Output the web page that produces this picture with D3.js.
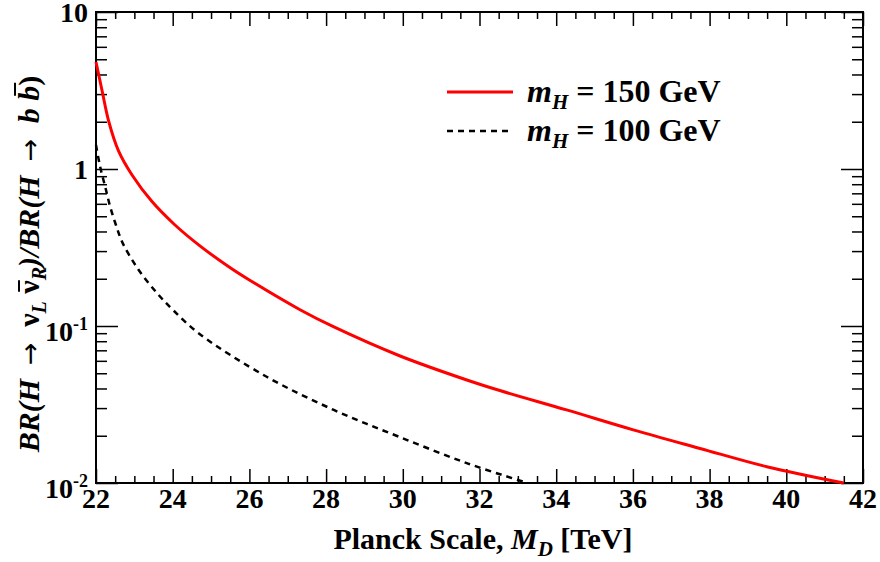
<!DOCTYPE html>
<html>
<head>
<meta charset="utf-8">
<title>BR ratio vs Planck scale</title>
<script src="https://cdn.jsdelivr.net/npm/d3@7"></script>
<style>
  body { margin: 0; background: white; }
  svg { display: block; }
  text { font-family: "Liberation Serif", "DejaVu Serif", serif; font-weight: bold; fill: black; }
  .axis path { display: none; }
  .axis line { stroke: black; stroke-width: 1.5; }
</style>
</head>
<body>
<svg width="880" height="562"></svg>
<script>
// values: M_D [TeV] and BR ratio
const md150 = [22, 22.16, 22.33, 22.59, 22.94, 23.46, 24.06, 24.71, 25.5, 26.02, 27.32, 28.19, 29.93, 31.67, 32.53, 34.27, 36.01, 37.75, 39.49, 41.5];
const br150 = [4.8, 3.14, 2.02, 1.3, 0.916, 0.62, 0.44, 0.324, 0.235, 0.195, 0.127, 0.099, 0.0644, 0.0453, 0.0388, 0.0292, 0.0218, 0.0166, 0.0127, 0.01];
const md100 = [22, 22.11, 22.24, 22.37, 22.52, 22.7, 23.1, 23.6, 24.0, 24.7, 26.45, 28.2, 29.9, 31.7, 33.25];
const br100 = [1.42, 1.03, 0.77, 0.575, 0.44, 0.336, 0.23, 0.161, 0.127, 0.089, 0.0475, 0.0292, 0.0197, 0.0133, 0.01];

const xMajor = [22, 24, 26, 28, 30, 32, 34, 36, 38, 40, 42];
const yMajor = [0.01, 0.1, 1, 10];
const yLabels = [["10", "-2"], ["10", "-1"], ["1", ""], ["10", ""]];
const legendNames = ["150 GeV", "100 GeV"];

const svg = d3.select("svg");
const L = 96, R = 863, T = 12, B = 483;

const x = d3.scaleLinear().domain([22, 42]).range([L, R]);
const y = d3.scaleLog().domain([0.01, 10]).range([B, T]);

const xMinor = d3.range(22, 42.01, 0.5).filter(v => v % 2 !== 0);
const yMinor = [];
[0.01, 0.1, 1].forEach(d => { for (let k = 2; k <= 9; k++) yMinor.push(d * k); });

// ticks, pointing inward on all four sides
function ticks(axisFn, vals, size, tr) {
  svg.append("g").attr("class", "axis").attr("transform", tr)
    .call(axisFn.tickValues(vals).tickSize(-size).tickFormat(""));
}
ticks(d3.axisBottom(x), xMajor, 14, `translate(0,${B})`);
ticks(d3.axisBottom(x), xMinor, 7, `translate(0,${B})`);
ticks(d3.axisTop(x), xMajor, 14, `translate(0,${T})`);
ticks(d3.axisTop(x), xMinor, 7, `translate(0,${T})`);
ticks(d3.axisLeft(y), yMajor, 22, `translate(${L},0)`);
ticks(d3.axisLeft(y), yMinor, 11, `translate(${L},0)`);
ticks(d3.axisRight(y), yMajor, 22, `translate(${R},0)`);
ticks(d3.axisRight(y), yMinor, 11, `translate(${R},0)`);

// frame
svg.append("rect").attr("x", L).attr("y", T).attr("width", R - L).attr("height", B - T)
  .attr("fill", "none").attr("stroke", "black").attr("stroke-width", 2);

// curves
const line = d3.line().x(d => x(d[0])).y(d => y(d[1])).curve(d3.curveCatmullRom.alpha(0.5));
svg.append("path").datum(d3.zip(md100, br100)).attr("d", line)
  .attr("fill", "none").attr("stroke", "black").attr("stroke-width", 2.5).attr("stroke-dasharray", "6,5");
svg.append("path").datum(d3.zip(md150, br150)).attr("d", line)
  .attr("fill", "none").attr("stroke", "#ff0000").attr("stroke-width", 3);

// x tick labels
svg.selectAll(".xl").data(xMajor).enter().append("text")
  .attr("x", d => x(d)).attr("y", 508).attr("text-anchor", "middle")
  .style("font-size", "28px").text(d => d);

// y tick labels
yMajor.forEach((v, i) => {
  const sup = yLabels[i][1];
  const t = svg.append("text").attr("x", 88).attr("y", y(v) + (sup ? 15 : 10)).attr("text-anchor", "end")
    .style("font-size", "28px");
  t.append("tspan").text(yLabels[i][0]);
  if (sup) t.append("tspan").attr("dy", -11).style("font-size", "18px").text(sup);
});

// x title
const xt = svg.append("text").attr("x", 483).attr("y", 549).attr("text-anchor", "middle").style("font-size", "30px");
xt.append("tspan").text("Planck Scale, ");
xt.append("tspan").style("font-style", "italic").text("M");
xt.append("tspan").attr("dy", 7).style("font-style", "italic").style("font-size", "21px").text("D");
xt.append("tspan").attr("dy", -7).text(" [TeV]");

// y title (rotated), bars over nu and b drawn as lines
const yg = svg.append("g").attr("transform", "translate(39,264) rotate(-90)");
const yt = yg.append("text").attr("text-anchor", "middle").style("font-size", "30px");
const arrow = () => yt.append("tspan").attr("dx", 14).style("font-family", "DejaVu Sans").style("font-weight", "normal")
  .style("font-size", "27px").text("\u2192");
yt.append("tspan").style("font-style", "italic").text("BR(H");
arrow();
yt.append("tspan").attr("dx", 8).text(" \u03bd");
yt.append("tspan").attr("dy", 7).style("font-style", "italic").style("font-size", "20px").text("L");
yt.append("tspan").attr("dy", -7).text(" ");
const nuBar = yt.append("tspan").text("\u03bd");
yt.append("tspan").attr("dy", 7).style("font-style", "italic").style("font-size", "20px").text("R");
yt.append("tspan").attr("dy", -7).style("font-style", "italic").text(")/BR(H");
arrow();
yt.append("tspan").attr("dx", 8).style("font-style", "italic").text(" b ");
const bBar = yt.append("tspan").style("font-style", "italic").text("b");
yt.append("tspan").text(")");

[[nuBar, -20, 1], [bBar, -24, 4]].forEach(([ts, off, sh]) => {
  const n = ts.node();
  const p0 = n.getStartPositionOfChar(0), p1 = n.getEndPositionOfChar(0);
  yg.append("line").attr("x1", p0.x + 1 + sh).attr("x2", p1.x - 1 + sh)
    .attr("y1", off).attr("y2", off).attr("stroke", "black").attr("stroke-width", 2);
});

// legend
const lg = svg.append("g");
[0, 1].forEach(i => {
  const ly = 92 + i * 39;
  lg.append("line").attr("x1", 447).attr("x2", 513).attr("y1", ly).attr("y2", ly)
    .attr("stroke", i === 0 ? "#ff0000" : "black")
    .attr("stroke-width", i === 0 ? 3 : 2.5)
    .attr("stroke-dasharray", i === 0 ? null : "6,5");
  const t = lg.append("text").attr("x", 527).attr("y", ly + 10).style("font-size", "32px");
  t.append("tspan").style("font-style", "italic").text("m");
  t.append("tspan").attr("dy", 7).style("font-style", "italic").style("font-size", "21px").text("H");
  t.append("tspan").attr("dy", -7).text(" = " + legendNames[i]);
});
</script>
</body>
</html>
